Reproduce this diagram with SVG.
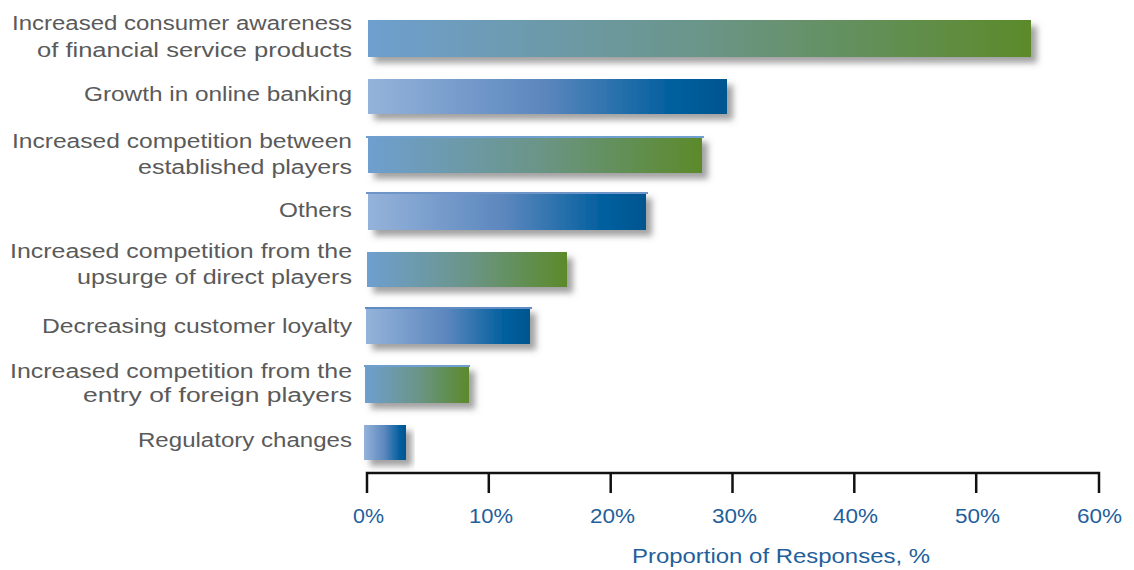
<svg xmlns="http://www.w3.org/2000/svg" width="1134" height="570" viewBox="0 0 1134 570">
<defs>
<linearGradient id="gGreen" x1="0" y1="0" x2="1" y2="0">
<stop offset="0" stop-color="#6e9fcf"/>
<stop offset="0.5" stop-color="#6b9589"/>
<stop offset="1" stop-color="#5b8a2a"/>
</linearGradient>
<linearGradient id="gBlue" x1="0" y1="0" x2="1" y2="0">
<stop offset="0" stop-color="#95b3da"/>
<stop offset="0.5" stop-color="#5a86bd"/>
<stop offset="0.85" stop-color="#005f9e"/>
<stop offset="1" stop-color="#00558f"/>
</linearGradient>
<filter id="shadow" x="-10%" y="-30%" width="130%" height="180%">
<feDropShadow dx="6" dy="6" stdDeviation="3" flood-color="#555" flood-opacity="0.55"/>
</filter>
</defs>
<style>
.lbl{font-family:"Liberation Sans",Arial,sans-serif;font-size:19.5px;fill:#5a5a5a;text-anchor:end;}
.tick{font-family:"Liberation Sans",Arial,sans-serif;font-size:20px;fill:#1f5f9c;text-anchor:middle;}
.title{font-family:"Liberation Sans",Arial,sans-serif;font-size:21px;fill:#1f5f9c;}
.green{fill:url(#gGreen);filter:url(#shadow);}
.blue{fill:url(#gBlue);filter:url(#shadow);}
.axis{stroke:#111;stroke-width:2.5;fill:none;}
</style>
<rect width="1134" height="570" fill="#fff"/>

<g id="bar1"><rect class="green" x="368" y="20" width="663" height="37"/>
<text class="lbl" x="352" y="30" textLength="340" lengthAdjust="spacingAndGlyphs">Increased consumer awareness</text>
<text class="lbl" x="352" y="57" textLength="315" lengthAdjust="spacingAndGlyphs">of financial service products</text></g>

<g id="bar2"><rect class="blue" x="368" y="79" width="359" height="35"/>
<text class="lbl" x="352" y="101" textLength="268" lengthAdjust="spacingAndGlyphs">Growth in online banking</text></g>

<g id="bar3"><rect class="green" x="368" y="136" width="334" height="37"/>
<rect x="366" y="136" width="338" height="2" fill="#6e9fcf"/>
<text class="lbl" x="352" y="148" textLength="340" lengthAdjust="spacingAndGlyphs">Increased competition between</text>
<text class="lbl" x="352" y="174" textLength="214" lengthAdjust="spacingAndGlyphs">established players</text></g>

<g id="bar4"><rect class="blue" x="368" y="192" width="278" height="38"/>
<rect x="366" y="192" width="282" height="2" fill="#6f95c8"/>
<text class="lbl" x="352" y="217" textLength="73" lengthAdjust="spacingAndGlyphs">Others</text></g>

<g id="bar5"><rect class="green" x="367" y="252" width="200" height="35"/>
<text class="lbl" x="352" y="258" textLength="342" lengthAdjust="spacingAndGlyphs">Increased competition from the</text>
<text class="lbl" x="352" y="284" textLength="275" lengthAdjust="spacingAndGlyphs">upsurge of direct players</text></g>

<g id="bar6"><rect class="blue" x="366" y="307" width="164" height="37"/>
<rect x="365" y="307" width="167" height="2" fill="#5f8cc2"/>
<text class="lbl" x="352" y="333" textLength="310" lengthAdjust="spacingAndGlyphs">Decreasing customer loyalty</text></g>

<g id="bar7"><rect class="green" x="365" y="365" width="104" height="38"/>
<rect x="364" y="365" width="106" height="2" fill="#6e9fcf"/>
<text class="lbl" x="352" y="378" textLength="342" lengthAdjust="spacingAndGlyphs">Increased competition from the</text>
<text class="lbl" x="352" y="402" textLength="269" lengthAdjust="spacingAndGlyphs">entry of foreign players</text></g>

<g id="bar8"><rect class="blue" x="364" y="425" width="42" height="35"/>
<text class="lbl" x="352" y="447" textLength="214" lengthAdjust="spacingAndGlyphs">Regulatory changes</text></g>

<g id="connectors">
<path class="axis" d="M367 493 V473 H1099 V493 M488.8 473 V493 M610.7 473 V493 M732.5 473 V493 M854.3 473 V493 M976.2 473 V493"/>
</g>

<g id="axis-labels">
<text class="tick" x="368.5" y="523" textLength="31" lengthAdjust="spacingAndGlyphs">0%</text>
<text class="tick" x="491" y="523" textLength="44" lengthAdjust="spacingAndGlyphs">10%</text>
<text class="tick" x="612.5" y="523" textLength="45" lengthAdjust="spacingAndGlyphs">20%</text>
<text class="tick" x="734.5" y="523" textLength="45" lengthAdjust="spacingAndGlyphs">30%</text>
<text class="tick" x="855.5" y="523" textLength="45" lengthAdjust="spacingAndGlyphs">40%</text>
<text class="tick" x="977.5" y="523" textLength="45" lengthAdjust="spacingAndGlyphs">50%</text>
<text class="tick" x="1099.5" y="523" textLength="45" lengthAdjust="spacingAndGlyphs">60%</text>
<text class="title" x="632" y="563" textLength="298" lengthAdjust="spacingAndGlyphs">Proportion of Responses, %</text>
</g>
</svg>
